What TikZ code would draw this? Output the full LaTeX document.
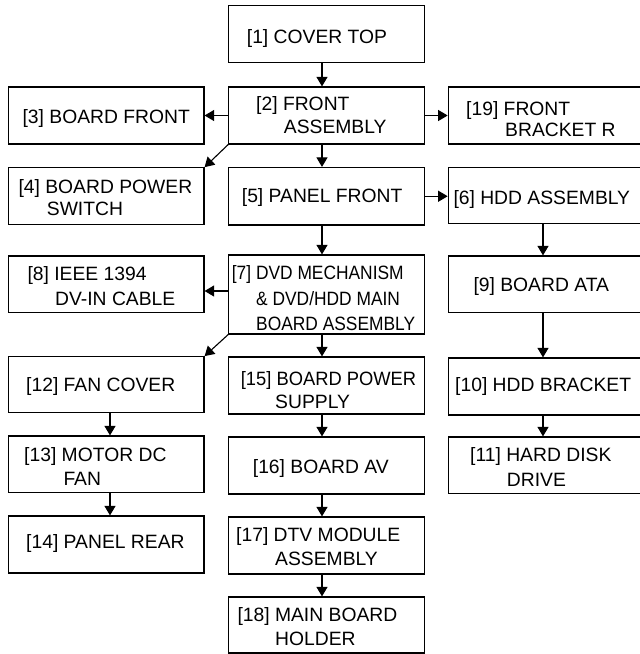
\documentclass[tikz,border=0pt]{standalone}
\usepackage{fontspec}
\usepackage{graphicx}
\setmainfont{Liberation Sans}
\usetikzlibrary{arrows.meta}
\begin{document}
\begin{tikzpicture}[x=1pt,y=-1pt,
  box/.style={draw, line width=1.2pt, inner sep=0pt, minimum width=195.5pt},
  txt/.style={anchor=base west, inner sep=0pt, font=\fontsize{19.3pt}{22pt}\selectfont},
  arr/.style={line width=1.1pt, -{Triangle[width=11pt,length=9.5pt]}}]
\useasboundingbox (0,0) rectangle (640,654);
\coordinate (cl) at (110,0);
\coordinate (cm) at (322,0);
\coordinate (cr) at (543,0);
\coordinate (r78) at (0,291);
% boxes
\node[box, minimum height=57.2pt] (n1) at (326.5,34.1) {};
\node[box, minimum height=57pt] (n2) at (326.5,115.5) {};
\node[box, minimum height=57pt] (n3) at (106.25,115.5) {};
\node[box, minimum height=57pt] (n19) at (546,115.5) {};
\node[box, minimum height=56.5pt] (n4) at (106.25,196) {};
\node[box, minimum height=57.5pt] (n5) at (326.5,196.25) {};
\node[box, minimum height=56.5pt] (n6) at (546,195.5) {};
\node[box, minimum height=56.7pt] (n8) at (106.25,284.35) {};
\node[box, minimum height=79pt] (n7) at (326.5,294.5) {};
\node[box, minimum height=56.7pt] (n9) at (546,284.35) {};
\node[box, minimum height=56pt] (n12) at (106.25,384.7) {};
\node[box, minimum height=57pt] (n15) at (326.5,385.5) {};
\node[box, minimum height=57pt] (n10) at (546,386.5) {};
\node[box, minimum height=56.7pt] (n13) at (106.25,464.35) {};
\node[box, minimum height=57pt] (n16) at (326.5,465.5) {};
\node[box, minimum height=56.5pt] (n11) at (546,465.25) {};
\node[box, minimum height=57pt] (n14) at (106.25,544.5) {};
\node[box, minimum height=57pt] (n17) at (326.5,545.5) {};
\node[box, minimum height=56pt] (n18) at (326.5,625) {};
% texts
\node[txt] (t1) at (246.7,43.3) {[1] COVER TOP};
\node[txt] (t2a) at (256,110) {[2] FRONT};
\node[txt] (t2b) at (283.7,133.3) {ASSEMBLY};
\node[txt] (t3) at (22.4,123.3) {[3] BOARD FRONT};
\node[txt] (t19a) at (466,115) {[19] FRONT};
\node[txt] (t19b) at (505,136.7) {BRACKET R};
\node[txt] (t4a) at (18.3,193) {[4] BOARD POWER};
\node[txt] (t4b) at (46.7,215) {SWITCH};
\node[txt] (t5) at (241.7,202.7) {[5] PANEL FRONT};
\node[txt] (t6) at (453.3,204) {[6] HDD ASSEMBLY};
\node[txt] (t8a) at (27.3,280) {[8] IEEE 1394};
\node[txt] (t8b) at (55,305.7) {DV-IN CABLE};
\node[txt] (t7a) at (231.7,279) {\scalebox{0.9}[1]{[7] DVD MECHANISM}};
\node[txt] (t7b) at (256,305) {\scalebox{0.9}[1]{\& DVD/HDD MAIN}};
\node[txt] (t7c) at (256,330.7) {\scalebox{0.9}[1]{BOARD ASSEMBLY}};
\node[txt] (t9) at (473.3,291.7) {[9] BOARD ATA};
\node[txt] (t12) at (26,391.7) {[12] FAN COVER};
\node[txt] (t15a) at (240.7,385) {\scalebox{0.95}[1]{[15] BOARD POWER}};
\node[txt] (t15b) at (275,408.3) {SUPPLY};
\node[txt] (t10) at (455,391.7) {[10] HDD BRACKET};
\node[txt] (t13a) at (24,461.7) {[13] MOTOR DC};
\node[txt] (t13b) at (63.3,485) {FAN};
\node[txt] (t16) at (252.7,473.3) {[16] BOARD AV};
\node[txt] (t11a) at (470,461.7) {[11] HARD DISK};
\node[txt] (t11b) at (506.7,486) {DRIVE};
\node[txt] (t14) at (26,548) {[14] PANEL REAR};
\node[txt] (t17a) at (236,541.7) {[17] DTV MODULE};
\node[txt] (t17b) at (275,565) {ASSEMBLY};
\node[txt] (t18a) at (237.3,621.7) {[18] MAIN BOARD};
\node[txt] (t18b) at (275,645) {HOLDER};
% connectors
\draw[arr] (n1.south -| cm) -- (n2.north -| cm);
\draw[arr] (n2.west) -- (n3.east);
\draw[arr] (n2.east) -- (n19.west);
\draw[arr] (n2.south west) -- (n4.north east);
\draw[arr] (n2.south -| cm) -- (n5.north -| cm);
\draw[arr] (n5.east) -- (n5.east -| n6.west);
\draw[arr] (n5.south -| cm) -- (n7.north -| cm);
\draw[arr] (n6.south -| cr) -- (n9.north -| cr);
\draw[arr] (n7.west |- r78) -- (n8.east |- r78);
\draw[arr] (n7.south west) -- (n12.north east);
\draw[arr] (n7.south -| cm) -- (n15.north -| cm);
\draw[arr] (n9.south -| cr) -- (n10.north -| cr);
\draw[arr] (n10.south -| cr) -- (n11.north -| cr);
\draw[arr] (n12.south -| cl) -- (n13.north -| cl);
\draw[arr] (n13.south -| cl) -- (n14.north -| cl);
\draw[arr] (n15.south -| cm) -- (n16.north -| cm);
\draw[arr] (n16.south -| cm) -- (n17.north -| cm);
\draw[arr] (n17.south -| cm) -- (n18.north -| cm);
\end{tikzpicture}
\end{document}
